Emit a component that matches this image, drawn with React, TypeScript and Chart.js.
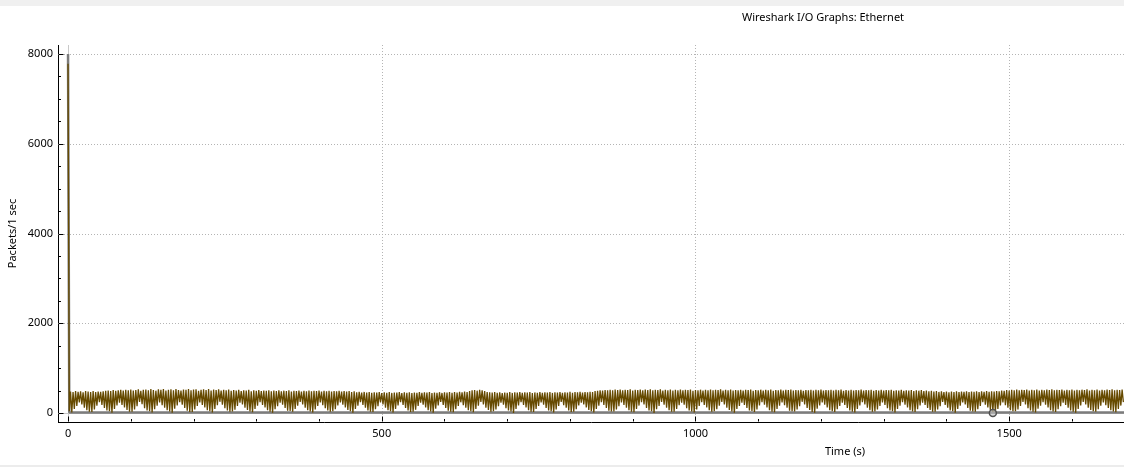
import React, { useEffect, useRef } from 'react';
import { Chart, registerables } from 'chart.js';

Chart.register(...registerables);

const chartTitle = 'Wireshark I/O Graphs: Ethernet';
const xAxisTitle = 'Time (s)';
const yAxisTitle = 'Packets/1 sec';

const xMin = -16;
const xMax = 1683;
const yMin = -200;
const yMax = 8200;
const xMajorTicks = [0, 500, 1000, 1500];
const yMajorTicks = [0, 2000, 4000, 6000, 8000];
const xMinorStep = 100;
const yMinorStep = 500;

// Ethernet packets per second: peak samples (t = 0, 4, 8, ... s)
const packetHighs = [
  7780,
  478, 465, 490, 472, 484, 460, 488, 476, 470, 492, 466, 480, 474, 486, 495, 502, 488, 510, 496, 505,
  515, 498, 520, 507, 526, 500, 512, 530, 495, 518, 524, 505, 532, 510, 498, 528, 515, 536, 503, 520,
  527, 508, 533, 514, 500, 525, 519, 535, 506, 522, 530, 497, 517, 528, 510, 534, 502, 521, 513, 529,
  498, 516, 507, 524, 493, 511, 503, 519, 490, 508, 500, 515, 486, 505, 497, 512, 488, 503, 494, 509,
  485, 500, 492, 507, 483, 498, 490, 504, 481, 496, 488, 502, 479, 495, 486, 500, 482, 493, 487, 499,
  480, 494, 485, 497, 478, 490, 483, 495, 476, 488, 481, 492, 470, 484, 462, 475, 458, 470, 455, 466,
  450, 463, 456, 468, 445, 460, 452, 465, 448, 458, 454, 467, 446, 461, 450, 464, 447, 459, 453, 466,
  449, 462, 455, 468, 444, 458, 451, 464, 447, 460, 456, 469, 452, 465, 458, 472, 460, 478, 470, 490,
  505, 512, 498, 515, 508, 490, 470, 462, 455, 468, 450, 463, 446, 458, 452, 465, 448, 460, 455, 467,
  449, 462, 457, 469, 445, 459, 453, 466, 450, 463, 456, 470, 448, 461, 454, 468, 451, 464, 458, 471,
  453, 466, 459, 472, 455, 468, 461, 474, 470, 488, 495, 506, 500, 512, 504, 518, 508, 522, 511, 525,
  506, 520, 513, 527, 502, 518, 510, 524, 505, 521, 514, 528, 507, 519, 512, 526, 503, 517, 509, 523,
  500, 515, 508, 522, 504, 519, 511, 525, 498, 514, 506, 520, 502, 516, 509, 523, 505, 518, 512, 526,
  501, 517, 508, 521, 499, 513, 506, 519, 503, 516, 510, 524, 497, 512, 505, 520, 502, 515, 509, 522,
  498, 514, 507, 521, 503, 517, 510, 525, 500, 513, 506, 519, 496, 511, 504, 518, 501, 516, 508, 523,
  499, 512, 505, 520, 502, 515, 509, 524, 497, 510, 503, 518, 500, 514, 507, 521, 498, 513, 506, 519,
  495, 510, 503, 517, 499, 512, 505, 520, 496, 509, 502, 516, 494, 507, 500, 514, 491, 505, 498, 510,
  488, 500, 482, 495, 476, 489, 470, 484, 466, 480, 463, 478, 468, 482, 465, 479, 470, 485, 467, 481,
  472, 486, 469, 483, 474, 488, 471, 485, 478, 492, 485, 500, 495, 510, 502, 516, 508, 522, 505, 519,
  511, 525, 503, 518, 509, 523, 500, 516, 507, 521, 513, 527, 504, 519, 510, 524, 502, 517, 508, 522,
  499, 515, 506, 520, 512, 526, 503, 518, 509, 523, 501, 516, 507, 521, 514, 528, 505, 519, 511, 525,
];

// Ethernet packets per second: trough samples (t = 2, 6, 10, ... s)
const packetLows = [
  40,
  12, 88, 158, 236, 190, 118, 62, 30,
  25, 80, 165, 244, 178, 112, 55, 38,
  8, 92, 170, 230, 182, 125, 66, 28,
  30, 78, 150, 248, 195, 110, 58, 40,
  15, 86, 162, 238, 176, 120, 64, 33,
  5, 95, 168, 242, 188, 115, 52, 26,
  22, 82, 155, 235, 180, 122, 60, 42,
  10, 90, 172, 250, 185, 108, 57, 31,
  35, 75, 160, 232, 192, 118, 68, 36,
  18, 88, 166, 240, 178, 126, 61, 29,
  6, 84, 152, 228, 184, 114, 54, 44,
  27, 93, 164, 246, 190, 121, 63, 34,
  14, 79, 158, 238, 175, 110, 59, 27,
  40, 87, 170, 234, 186, 124, 66, 38,
  9, 91, 161, 244, 181, 116, 56, 30,
  24, 83, 154, 236, 193, 119, 62, 41,
  12, 89, 167, 242, 179, 113, 58, 25,
  32, 76, 159, 230, 188, 127, 65, 37,
  7, 94, 171, 248, 183, 111, 53, 32,
  20, 85, 156, 239, 177, 120, 61, 43,
  16, 90, 163, 245, 191, 117, 67, 28,
  38, 81, 151, 233, 184, 109, 57, 35,
  4, 88, 169, 241, 180, 123, 63, 30,
  26, 92, 160, 237, 187, 115, 55, 39,
  13, 78, 157, 249, 176, 119, 60, 26,
  29, 86, 168, 231, 194, 126, 68, 42,
  11, 93, 162, 243, 182, 112, 54, 33,
  36, 80, 153, 235, 178, 121, 62, 29,
  19, 89, 166, 240, 189, 114, 59, 40,
  3, 84, 159, 246, 183, 118, 65, 31,
  28, 91, 172, 233, 185, 110, 56, 37,
  15, 77, 155, 239, 179, 125, 61, 27,
  42, 87, 164, 247, 192, 116, 66, 34,
  8, 92, 158, 229, 181, 113, 58, 44,
  23, 82, 170, 242, 186, 122, 63, 30,
  17, 90, 161, 236, 177, 117, 53, 38,
  33, 79, 154, 250, 190, 111, 67, 26,
  6, 94, 167, 238, 184, 124, 60, 41,
  25, 85, 160, 232, 180, 115, 57, 32,
  14, 88, 169, 244, 193, 120, 64, 28,
  37, 81, 156, 235, 178, 109, 55, 39,
  10, 93, 163, 241, 187, 126, 62, 33,
  21, 86, 171, 230, 182, 114, 68, 29,
  31, 78, 152, 247, 179, 119, 59, 43,
  5, 91, 165, 237, 191, 112, 54, 35,
  27, 84, 159, 243, 185, 123, 65, 27,
  16, 89, 168, 234, 176, 117, 61, 40,
  39, 80, 157, 248, 189, 110, 56, 31,
  12, 95, 164, 239, 183, 125, 63, 37,
  24, 83, 153, 231, 180, 116, 58, 28,
  9, 90, 170, 245, 192, 121, 66, 42,
  30, 86, 161, 238, 177, 113, 60, 34,
  18, 88, 166, 242,
];

// second graph (grey), close to zero after the initial burst
const baseTimes = [0, 2, 150, 300, 450, 600, 750, 900, 1050, 1200, 1350, 1500, 1683];
const baseValues = [8000, 12, 10, 11, 9, 10, 12, 10, 9, 11, 10, 12, 10];

// selected-packet marker
const markerTimes = [1474];
const markerValues = [0];

const FONT = '"Noto Sans", "DejaVu Sans", sans-serif';

const decor = {
  id: 'decor',
  beforeDatasetsDraw(chart: any) {
    const { ctx, chartArea: a, scales } = chart;
    const x = scales.x;
    const y = scales.y;
    ctx.save();
    ctx.lineWidth = 1;
    ctx.strokeStyle = '#b4b4b4';
    ctx.setLineDash([1, 2]);
    for (const v of xMajorTicks) {
      if (v === 0) continue;
      const px = Math.round(x.getPixelForValue(v)) + 0.5;
      ctx.beginPath();
      ctx.moveTo(px, a.top);
      ctx.lineTo(px, a.bottom);
      ctx.stroke();
    }
    for (const v of yMajorTicks) {
      if (v === 0) continue;
      const py = Math.round(y.getPixelForValue(v)) + 0.5;
      ctx.beginPath();
      ctx.moveTo(a.left, py);
      ctx.lineTo(a.right, py);
      ctx.stroke();
    }
    ctx.setLineDash([]);
    ctx.strokeStyle = '#c8c8c8';
    const zx = Math.round(x.getPixelForValue(0)) + 0.5;
    ctx.beginPath();
    ctx.moveTo(zx, a.top);
    ctx.lineTo(zx, a.bottom);
    ctx.stroke();
    const zy = Math.round(y.getPixelForValue(0)) + 0.5;
    ctx.beginPath();
    ctx.moveTo(a.left, zy);
    ctx.lineTo(a.right, zy);
    ctx.stroke();
    ctx.restore();
  },
  afterDraw(chart: any) {
    const { ctx, chartArea: a, scales } = chart;
    const x = scales.x;
    const y = scales.y;
    ctx.save();
    ctx.strokeStyle = '#000';
    ctx.lineWidth = 1;
    const ax = Math.round(a.left) + 0.5;
    const ay = Math.round(a.bottom) - 0.5;
    for (let v = 0; v <= yMax; v += yMinorStep) {
      const py = Math.round(y.getPixelForValue(v)) + 0.5;
      const len = yMajorTicks.includes(v) ? 5 : 2.5;
      ctx.beginPath();
      ctx.moveTo(ax, py);
      ctx.lineTo(ax + len, py);
      ctx.stroke();
    }
    for (let v = 0; v <= xMax; v += xMinorStep) {
      const px = Math.round(x.getPixelForValue(v)) + 0.5;
      const len = xMajorTicks.includes(v) ? 5 : 2.5;
      ctx.beginPath();
      ctx.moveTo(px, ay);
      ctx.lineTo(px, ay - len);
      ctx.stroke();
    }
    ctx.fillStyle = '#000';
    ctx.font = `11px ${FONT}`;
    ctx.textAlign = 'center';
    ctx.textBaseline = 'middle';
    ctx.fillText(chartTitle, 823, 18);
    ctx.fillText(xAxisTitle, 845, 452);
    ctx.restore();
  },
};

export default function App() {
  const canvasRef = useRef<HTMLCanvasElement | null>(null);

  useEffect(() => {
    const canvas = canvasRef.current;
    if (!canvas) return;

    const goldPoints: { x: number; y: number }[] = [];
    for (let i = 0; i < packetHighs.length; i++) {
      goldPoints.push({ x: i * 4, y: packetHighs[i] });
      if (i < packetLows.length) goldPoints.push({ x: i * 4 + 2, y: packetLows[i] });
    }
    const greyPoints = baseTimes.map((t, i) => ({ x: t, y: baseValues[i] }));
    const markerPoints = markerTimes.map((t, i) => ({ x: t, y: markerValues[i] }));

    const chart = new Chart(canvas, {
      type: 'line',
      data: {
        datasets: [
          {
            label: 'marker',
            data: markerPoints,
            showLine: false,
            pointRadius: 3.5,
            pointHoverRadius: 0,
            pointBorderWidth: 1.5,
            pointBorderColor: '#505050',
            pointBackgroundColor: 'rgba(190,190,190,0.6)',
          },
          {
            label: 'All Packets',
            data: goldPoints,
            borderColor: '#664a00',
            borderWidth: 1.3,
            borderJoinStyle: 'bevel',
            pointRadius: 0,
            pointHoverRadius: 0,
            tension: 0,
          },
          {
            label: 'Grey',
            data: greyPoints,
            borderColor: '#7c7c7c',
            borderWidth: 2.5,
            borderJoinStyle: 'bevel',
            pointRadius: 0,
            pointHoverRadius: 0,
            tension: 0,
          },
        ],
      },
      options: {
        animation: false,
        responsive: false,
        maintainAspectRatio: false,
        events: [],
        layout: { autoPadding: false, padding: { top: 45, left: 0, right: 0, bottom: 0 } },
        plugins: {
          legend: { display: false },
          tooltip: { enabled: false },
          title: { display: false },
        },
        scales: {
          x: {
            type: 'linear',
            min: xMin,
            max: xMax,
            afterFit: (s: any) => {
              s.height = 45;
              s.paddingLeft = 0;
              s.paddingRight = 0;
            },
            afterBuildTicks: (s: any) => {
              s.ticks = xMajorTicks.map((v) => ({ value: v }));
            },
            ticks: {
              color: '#000',
              font: { family: FONT, size: 11 },
              padding: 5,
              maxRotation: 0,
              autoSkip: false,
              callback: (v: any) => String(v),
            },
            grid: { display: false, drawTicks: false },
            border: { display: true, color: '#000', width: 1 },
          },
          y: {
            type: 'linear',
            min: yMin,
            max: yMax,
            afterFit: (s: any) => {
              s.width = 58;
              s.paddingTop = 0;
              s.paddingBottom = 0;
            },
            afterBuildTicks: (s: any) => {
              s.ticks = yMajorTicks.map((v) => ({ value: v }));
            },
            ticks: {
              color: '#000',
              font: { family: FONT, size: 11 },
              padding: 5,
              autoSkip: false,
              callback: (v: any) => String(v),
            },
            grid: { display: false, drawTicks: false },
            border: { display: true, color: '#000', width: 1 },
            title: {
              display: true,
              text: yAxisTitle,
              color: '#000',
              font: { family: FONT, size: 11 },
              padding: { top: 6, bottom: 0 },
            },
          },
        },
      },
      plugins: [decor],
    });

    return () => chart.destroy();
  }, []);

  return (
    <div
      style={{
        position: 'absolute',
        left: 0,
        top: 0,
        width: 1124,
        height: 467,
        background: '#fff',
        overflow: 'hidden',
      }}
    >
      <canvas ref={canvasRef} width={1124} height={467} style={{ display: 'block' }} />
      <div style={{ position: 'absolute', left: 0, top: 0, width: 1124, height: 6, background: '#f0f0f0' }} />
      <div style={{ position: 'absolute', left: 0, top: 465, width: 1124, height: 2, background: '#ececec' }} />
    </div>
  );
}
